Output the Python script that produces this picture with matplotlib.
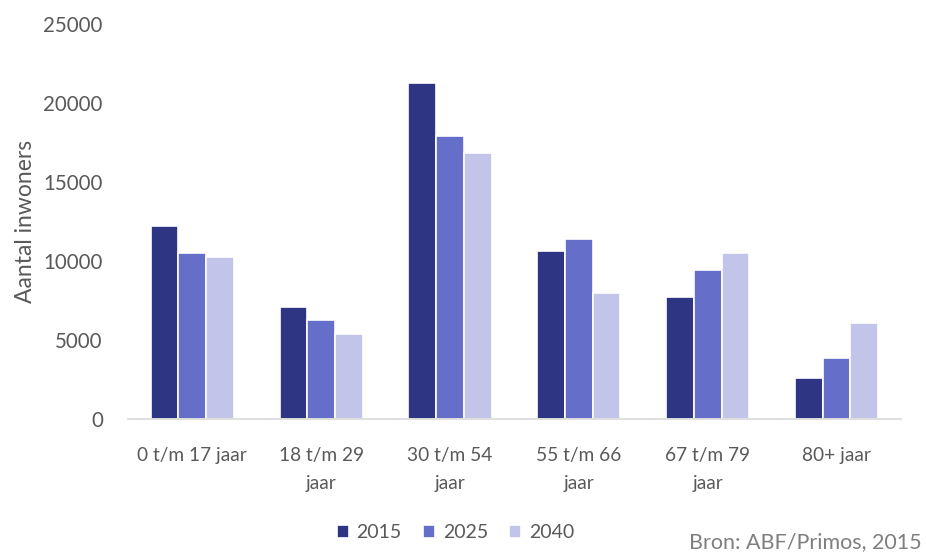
import numpy as np
import matplotlib.pyplot as plt

plt.rcParams['font.family'] = ['Lato', 'DejaVu Sans']

categories = ['0 t/m 17 jaar', '18 t/m 29\njaar', '30 t/m 54\njaar',
              '55 t/m 66\njaar', '67 t/m 79\njaar', '80+ jaar']
years = ['2015', '2025', '2040']
v2015 = [12200, 7100, 21250, 10650, 7750, 2600]
v2025 = [10500, 6300, 17900, 11400, 9450, 3850]
v2040 = [10250, 5400, 16850, 8000, 10500, 6100]
colors = ['#2e3583', '#656ec9', '#c2c5e9']

fig = plt.figure(figsize=(9.26, 5.59), dpi=100)
ax = fig.add_axes([0.138, 0.25, 0.835, 0.707])

x = np.arange(len(categories))
w = 0.215
for i, (vals, lab) in enumerate(zip([v2015, v2025, v2040], years)):
    ax.bar(x + (i - 1) * w, vals, width=w, color=colors[i], label=lab,
           edgecolor='white', linewidth=1.2)

ax.set_xlim(-0.5, len(categories) - 0.5)
ax.set_ylim(0, 25000)
ax.set_yticks(range(0, 25001, 5000))
ax.set_xticks(x)
ax.set_xticklabels(categories, fontsize=13.8, color='#595959', linespacing=1.75)
ax.tick_params(axis='y', length=0, pad=18, labelsize=14.8, labelcolor='#595959')
ax.tick_params(axis='x', length=0, pad=20)
for s in ['top', 'right', 'left']:
    ax.spines[s].set_visible(False)
ax.spines['bottom'].set_color('#d9d9d9')
ax.spines['bottom'].set_linewidth(1.2)

ax.set_ylabel('Aantal inwoners', fontsize=16.5, color='#595959', labelpad=5)

fig.legend(loc='center', bbox_to_anchor=(0.492, 0.047), ncol=3, frameon=False,
           fontsize=14, handlelength=0.6, handleheight=0.6, handletextpad=0.4,
           columnspacing=1.1, labelcolor='#595959')
fig.text(0.995, 0.012, 'Bron: ABF/Primos, 2015', ha='right', va='bottom',
         fontsize=15.5, color='#7f7f7f')

plt.savefig('out.png', dpi=100)
